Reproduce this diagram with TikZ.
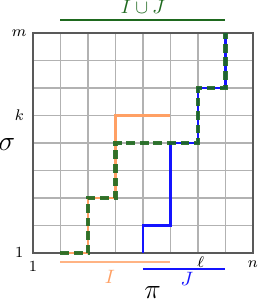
\documentclass[tikz,border=0pt]{standalone}
\usepackage{xcolor}
\usetikzlibrary{math}
\definecolor{mygreen}{RGB}{30,105,30}
\definecolor{myorange}{RGB}{255,160,100}
\definecolor{myblue}{RGB}{20,20,255}

\begin{document}
\begin{tikzpicture}[x=0.5cm,y=0.5cm]
\tikzmath{
\N=8;
\w=1.1;
}
\useasboundingbox (-1.2,-1.71) rectangle (8.18,9.2);
\draw[gray!60, line width=0.6pt] (0,0) grid[step=1] (\N,\N);
\draw[black!65, line width=0.6pt] (0,0) rectangle (\N,\N);

% the two runs and their union
\draw[myorange, line width=\w pt] (1,0) -- (2,0) -- (2,2) -- (3,2) -- (3,5) -- (5,5);
\draw[myblue, line width=1.3pt] (4,0) -- (4,1) -- (5,1) -- (5,4) -- (6,4) -- (6,6) -- (7,6) -- (7,8);
\draw[mygreen, line width=2.2pt, dash pattern=on 4.5pt off 2.5pt, opacity=0.9] (1,0) -- (2,0) -- (2,2) -- (3,2) -- (3,4) -- (6,4) -- (6,6) -- (7,6) -- (7,8);

% axis marks
\node (ym) at (-0.5,8) {\footnotesize$m$};
\node (yk) at (-0.5,5) {\footnotesize$k$};
\node (y1) at (-0.5,0) {\footnotesize$1$};
\node (x1) at (0,-0.5) {\footnotesize$1$};
\node (xl) at (6.1,-0.35) {\footnotesize$\ell$};
\node (xn) at (8,-0.4) {\footnotesize$n$};
\node (sigma) at (-0.95,3.95) {\Large$\sigma$};
\node (pi) at (4.35,-1.45) {\Large$\pi$};

% intervals
\draw[myorange!80, line width=\w pt] (1,-0.33) -- (5,-0.33);
\node[color=myorange] (lI) at (2.8,-0.88) {$I$};
\draw[myblue, line width=\w pt] (4,-0.58) -- (7,-0.58);
\node[color=myblue] (lJ) at (5.6,-0.95) {$J$};
\draw[mygreen, line width=\w pt] (1,8.47) -- (7,8.47);
\node[color=mygreen] (lIJ) at (4,8.95) {$I\cup J$};
\end{tikzpicture}
\end{document}
